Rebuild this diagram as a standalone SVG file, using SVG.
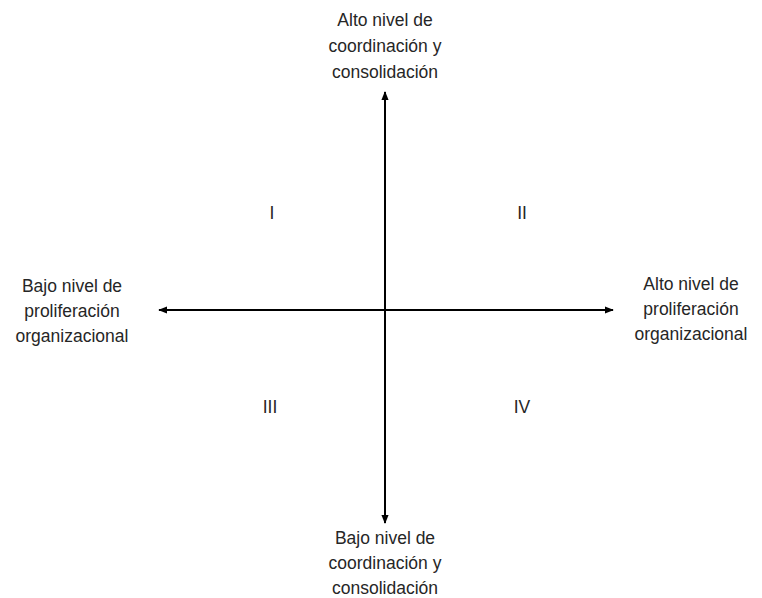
<svg xmlns="http://www.w3.org/2000/svg" width="762" height="598" viewBox="0 0 762 598">
<style>
text{font-family:"Liberation Sans",Arial,sans-serif;font-size:17.5px;fill:#262626;text-anchor:middle}
.ax{stroke:#000;stroke-width:2;fill:none}
</style>
<defs>
<marker id="ah" viewBox="0 0 10 10" refX="9" refY="5" markerWidth="4.5" markerHeight="4.5" orient="auto-start-reverse" markerUnits="strokeWidth">
<path d="M0,1 L10,5 L0,9 Z" fill="#000"/>
</marker>
</defs>
<rect width="762" height="598" fill="#fff"/>
<g id="connectors">
<line class="ax" x1="385" y1="92" x2="385" y2="523" marker-start="url(#ah)" marker-end="url(#ah)"/>
<line class="ax" x1="159" y1="310" x2="613" y2="310" marker-start="url(#ah)" marker-end="url(#ah)"/>
</g>
<g id="top">
<text x="385" y="26">Alto nivel de</text>
<text x="385" y="52">coordinación y</text>
<text x="385" y="78">consolidación</text>
</g>
<g id="bottom">
<text x="385" y="544">Bajo nivel de</text>
<text x="385" y="569">coordinación y</text>
<text x="385" y="594">consolidación</text>
</g>
<g id="left">
<text x="72" y="292">Bajo nivel de</text>
<text x="72" y="317">proliferación</text>
<text x="72" y="342">organizacional</text>
</g>
<g id="right">
<text x="691" y="290">Alto nivel de</text>
<text x="691" y="315">proliferación</text>
<text x="691" y="340">organizacional</text>
</g>
<g id="q1"><text x="272" y="219">I</text></g>
<g id="q2"><text x="522" y="219">II</text></g>
<g id="q3"><text x="270" y="413">III</text></g>
<g id="q4"><text x="522" y="413">IV</text></g>
</svg>
